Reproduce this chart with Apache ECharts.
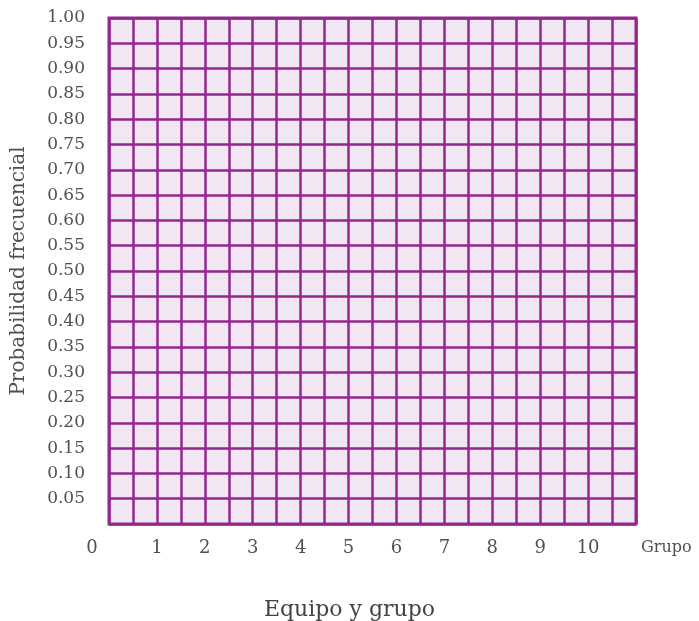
<!DOCTYPE html>
<html>
<head>
<meta charset="utf-8">
<script src="https://cdn.jsdelivr.net/npm/echarts@6/dist/echarts.min.js"></script>
<style>html,body{margin:0;padding:0;background:#fff}#c{width:699px;height:621px}</style>
</head>
<body>
<div id="c"></div>
<script>
// Tick labels and axis ranges
const xTickLabels = [0, 1, 2, 3, 4, 5, 6, 7, 8, 9, 10];
const yTickLabels = ['0.05','0.10','0.15','0.20','0.25','0.30','0.35','0.40','0.45','0.50','0.55','0.60','0.65','0.70','0.75','0.80','0.85','0.90','0.95','1.00'];
const xRange = [0, 11];
const yRange = [0, 1];
// Empty worksheet: no plotted values
const seriesData = [];

const purple = '#93278f';
const textColor = '#505050';
const font = 'DejaVu Serif';

const chart = echarts.init(document.getElementById('c'));
chart.setOption({
  animation: false,
  title: {
    text: 'Equipo y grupo',
    left: 'center',
    top: 594,
    textStyle: { fontFamily: font, fontSize: 22, fontWeight: 'normal', color: '#444' }
  },
  grid: {
    left: 109, right: 63, top: 18, bottom: 97,
    show: true, backgroundColor: '#f0e7f3', borderColor: purple, borderWidth: 3
  },
  xAxis: {
    type: 'value', min: xRange[0], max: xRange[1], interval: 0.5,
    name: 'Grupo', nameLocation: 'end', nameGap: 5,
    nameTextStyle: { fontFamily: font, fontSize: 16, color: textColor, verticalAlign: 'top', padding: [16, 0, 0, 0] },
    axisLine: { show: false }, axisTick: { show: false },
    splitLine: { show: true, lineStyle: { color: purple, width: 2.5 } },
    axisLabel: {
      margin: 15, fontFamily: font, fontSize: 18, color: textColor, showMaxLabel: true, showMinLabel: true,
      formatter: function (v) {
        if (v === 0) return '{z|0}';
        return (Number.isInteger(v) && xTickLabels.indexOf(v) >= 0) ? String(v) : '';
      },
      rich: { z: { fontFamily: font, fontSize: 18, color: textColor, padding: [0, 34, 0, 0] } }
    }
  },
  yAxis: {
    type: 'value', min: yRange[0], max: yRange[1], interval: 0.05,
    name: 'Probabilidad frecuencial', nameLocation: 'middle', nameGap: 80,
    nameTextStyle: { fontFamily: font, fontSize: 20, color: textColor },
    axisLine: { show: false }, axisTick: { show: false },
    splitLine: { show: true, lineStyle: { color: purple, width: 2.5 } },
    axisLabel: {
      margin: 24, fontFamily: font, fontSize: 17, color: textColor,
      formatter: function (v) {
        const s = v.toFixed(2);
        return yTickLabels.indexOf(s) >= 0 ? s : '';
      }
    }
  },
  series: [{ type: 'scatter', data: seriesData }]
});
</script>
</body>
</html>
